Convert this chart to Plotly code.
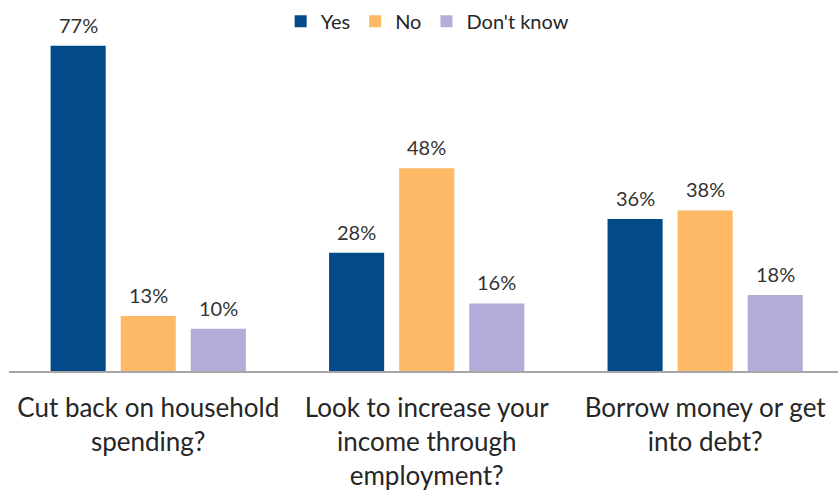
import plotly.graph_objects as go

categories = ["Cut back on household<br>spending?",
              "Look to increase your<br>income through<br>employment?",
              "Borrow money or get<br>into debt?"]
series_names = ["Yes", "No", "Don't know"]
yes_vals = [77, 28, 36]
no_vals = [13, 48, 38]
dk_vals = [10, 16, 18]
colors = ["#024b88", "#fdb966", "#b3acd8"]

FONT = "Lato, sans-serif"
W, H = 838, 491
ML, MR = 9, 0
BARGAP = 0.245
XRANGE = [-0.5, 2.477]

fig = go.Figure()
all_vals = [yes_vals, no_vals, dk_vals]
for name, vals, col in zip(series_names, all_vals, colors):
    fig.add_trace(go.Bar(
        name=name, x=categories, y=vals, marker_color=col,
        marker_line_width=0,
    ))

# value labels placed above each bar (offset follows the group layout)
unit_px = (W - ML - MR) / (XRANGE[1] - XRANGE[0])
pitch_px = unit_px * (1 - BARGAP) / len(series_names)
annotations = []
for i, vals in enumerate(all_vals):
    for cat, v in zip(categories, vals):
        annotations.append(dict(
            x=cat, y=v, xref="x", yref="y", text=f"{v}%", showarrow=False,
            xanchor="center", yanchor="bottom",
            xshift=(i - 1) * pitch_px, yshift=7,
            font=dict(size=20, color="#333333", family=FONT),
        ))

fig.update_layout(
    width=W, height=H,
    margin=dict(l=ML, r=MR, t=0, b=120),
    plot_bgcolor="white", paper_bgcolor="white",
    barmode="group", bargap=BARGAP, bargroupgap=0.214,
    font=dict(family=FONT, color="#262626"),
    legend=dict(orientation="h", x=0.505, xanchor="center", y=0.995, yanchor="top",
                font=dict(size=20, color="#262626"), traceorder="normal",
                itemwidth=30),
    xaxis=dict(showline=True, linecolor="#a6a6a6", linewidth=2,
               range=XRANGE,
               tickfont=dict(size=26, color="#262626"), ticks="",
               ticklabelstandoff=13),
    yaxis=dict(range=[0, 87.8], visible=False),
    annotations=annotations,
    showlegend=True,
)
fig.write_html("out.html")
